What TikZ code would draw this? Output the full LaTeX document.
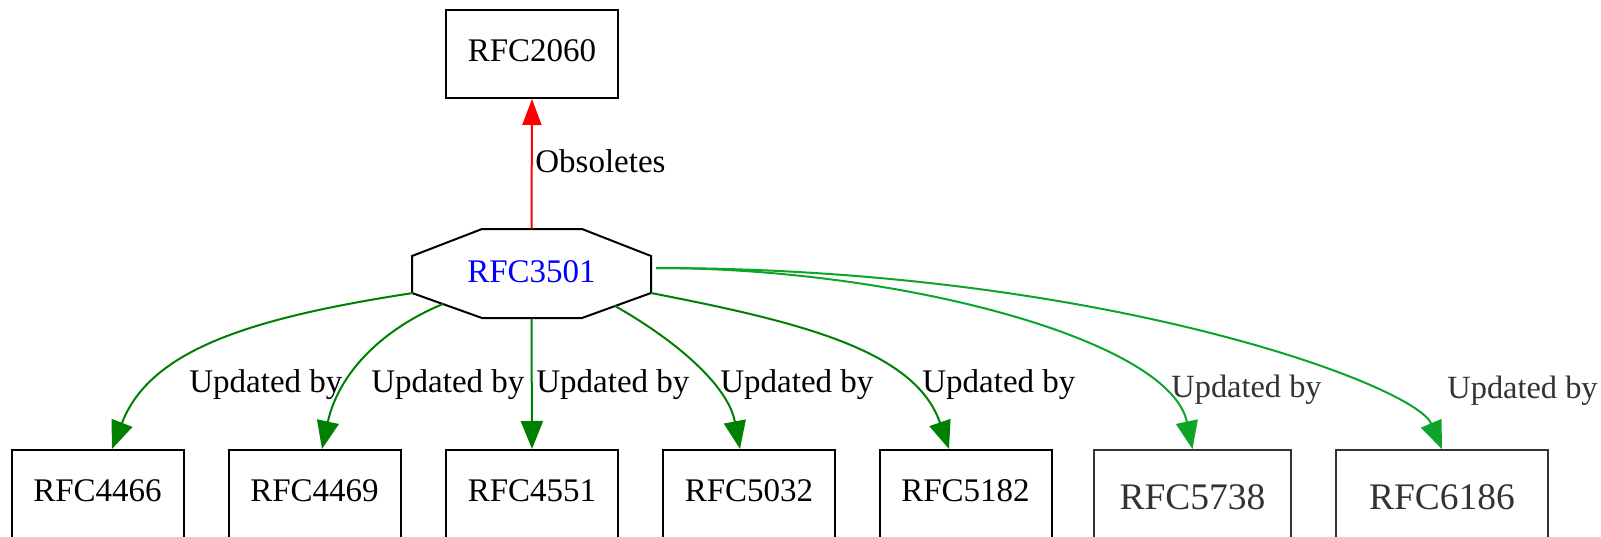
\documentclass[tikz,border=0pt]{standalone}
\usepackage{fontspec}
\setmainfont{Liberation Serif}
\usetikzlibrary{arrows.meta,calc}
\definecolor{dgreen}{RGB}{0,128,0}
\definecolor{lgreen}{RGB}{12,165,42}
\definecolor{dgrey}{RGB}{51,51,51}
\definecolor{rfcblue}{RGB}{0,0,255}
\tikzset{
  rfcbox/.style={draw=black, line width=1pt, minimum width=86pt, minimum height=44pt, inner sep=0pt,
    font=\fontsize{16.5}{19}\selectfont, text height=10.9pt, text depth=3pt},
  gbox/.style={draw=dgrey, text=dgrey, line width=0.9pt, minimum height=50pt, inner sep=0pt,
    font=\fontsize{18.75}{22}\selectfont, text height=12.4pt, text depth=3.4pt},
  octnode/.style={minimum width=119.5pt, minimum height=44.5pt, inner sep=0pt, text=rfcblue,
    font=\fontsize{16.5}{19}\selectfont, text height=10.9pt, text depth=2.4pt},
  octline/.style={draw=black, line width=1pt, line join=miter},
  elab/.style={anchor=base west, inner sep=0pt, font=\fontsize{16.5}{19}\selectfont},
  glab/.style={elab, text=dgrey, font=\fontsize{16.2}{19}\selectfont},
  upd/.style={draw=dgreen, line width=1pt, -{Triangle[length=14pt,width=11pt]}},
  gupd/.style={draw=lgreen, line width=1pt, -{Triangle[length=14pt,width=11pt]}},
  obs/.style={draw=red, line width=1pt, -{Triangle[length=13pt,width=9.5pt]}},
}
\begin{document}
\begin{tikzpicture}[x=0.5pt, y=-0.5pt]
\clip (0,0) rectangle (1601,536);
\fill[white] (0,0) rectangle (1601,536);

% nodes
\node[rfcbox] (r2060) at (532,54) {RFC2060};
\node[octnode] (oct) at (531.5,273.5) {RFC3501};
\draw[octline] ($(oct.center)+(-49.5,-44.5)$) -- ($(oct.center)+(50.5,-44.5)$)
  -- ($(oct.center)+(119.5,-17.5)$) -- ($(oct.center)+(119.5,19.5)$)
  -- ($(oct.center)+(50.5,44.5)$) -- ($(oct.center)+(-49.5,44.5)$)
  -- ($(oct.center)+(-119.5,19.5)$) -- ($(oct.center)+(-119.5,-17.5)$) -- cycle;

\node[rfcbox] (b4466) at (97.5,494) {RFC4466};
\node[rfcbox] (b4469) at (314.5,494) {RFC4469};
\node[rfcbox] (b4551) at (532,494) {RFC4551};
\node[rfcbox] (b5032) at (749,494) {RFC5032};
\node[rfcbox] (b5182) at (965.5,494) {RFC5182};
\node[gbox, minimum width=98.5pt] (b5738) at (1192.5,500) {RFC5738};
\node[gbox, minimum width=106pt] (b6186) at (1442,500) {RFC6186};

% edges
\draw[obs] (oct.north) -- (r2060.south);
\node[elab] (lobs) at (535,172) {Obsoletes};

\draw[upd] ($(oct.center)+(-118.5,19.5)$) .. controls (250,318) and (150,350) .. ($(b4466.north)+(14.5,0)$);
\node[elab] (l4466) at (189,392) {Updated by};

\draw[upd] ($(oct.center)+(-88.5,30.5)$) .. controls (380,330) and (338,375) .. ($(b4469.north)+(7.5,0)$);
\node[elab] (l4469) at (371,392) {Updated by};

\draw[upd] (oct.south) -- (b4551.north);
\node[elab] (l4551) at (536,392) {Updated by};

\draw[upd] ($(oct.center)+(83.5,32.5)$) .. controls (675,340) and (728,385) .. ($(b5032.north)+(-9,0)$);
\node[elab] (l5032) at (720,392) {Updated by};

\draw[upd] ($(oct.center)+(119.5,19.5)$) .. controls (800,322) and (915,350) .. ($(b5182.north)+(-16.5,0)$);
\node[elab] (l5182) at (922,392) {Updated by};

\draw[gupd] ($(oct.center)+(124.5,-5.5)$) .. controls (900,268) and (1170,340) .. (b5738.north);
\node[glab] (l5738) at (1171,397) {Updated by};

\draw[gupd] ($(oct.center)+(124.5,-5.5)$) .. controls (1100,268) and (1415,385) .. (b6186.north);
\node[glab] (l6186) at (1447,398) {Updated by};
\end{tikzpicture}
\end{document}
